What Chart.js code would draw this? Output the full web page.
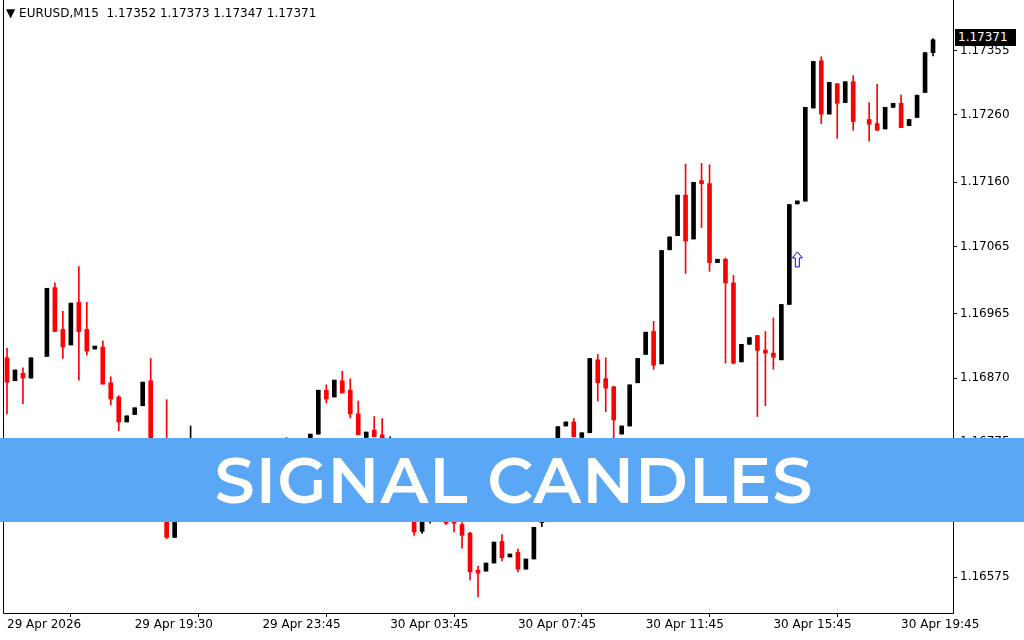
<!DOCTYPE html>
<html><head><meta charset="utf-8">
<script src="https://cdn.jsdelivr.net/npm/chart.js@4/dist/chart.umd.min.js"></script>
<style>
html,body{margin:0;padding:0;background:#fff;width:1024px;height:640px;overflow:hidden;font-family:"DejaVu Sans",sans-serif}
#wrap{position:relative;width:1024px;height:640px}
#hdr{position:absolute;left:6px;top:6px;font:12px "DejaVu Sans",sans-serif;color:#000;white-space:pre}
#banner{position:absolute;left:0;top:438px;width:1024px;height:84px;background:#5aa8f5;color:#fff;
 font:600 64px Montserrat,"Open Sans",sans-serif;letter-spacing:1px;text-align:center;line-height:84px;text-indent:4px}
#last{position:absolute;left:955px;top:29px;width:58px;height:17px;background:#000;color:#fff;font:12px "DejaVu Sans",sans-serif;line-height:17px;padding-left:3px}
</style></head>
<body><div id="wrap"><canvas id="c" width="1024" height="640"></canvas>
<div id="hdr">▼ EURUSD,M15  1.17352 1.17373 1.17347 1.17371</div>
<div id="last">1.17371</div>
<div id="banner">SIGNAL CANDLES</div></div>
<script>
const opens=[1.16900,1.16866,1.16877,1.16870,null,1.16902,1.17004,1.16942,1.16919,1.16982,1.16942,1.16913,1.16916,1.16863,1.16842,1.16805,1.16816,1.16829,1.16866,1.16720,1.16700,1.16634,1.16680,1.16690,1.16700,1.16710,1.16725,1.16715,1.16740,1.16730,1.16745,1.16755,1.16745,1.16760,1.16750,1.16770,1.16755,1.16770,1.16760,1.16787,1.16852,1.16842,1.16866,1.16852,1.16817,1.16782,1.16793,1.16786,1.16740,1.16760,1.16705,1.16680,1.16643,1.16670,1.16680,1.16665,1.16665,1.16653,1.16640,1.16583,1.16584,1.16596,1.16628,1.16605,1.16612,1.16587,1.16602,1.16656,1.16700,1.16730,1.16799,1.16805,1.16782,1.16789,1.16897,1.16869,1.16857,1.16787,1.16799,1.16863,1.16905,1.16939,1.16891,1.17060,1.17081,1.17141,1.17076,1.17162,1.17158,1.17041,1.17046,1.17011,1.16894,1.16920,1.16933,1.16911,1.16907,1.16897,1.16979,1.17128,1.17132,1.17270,1.17340,1.17261,1.17306,1.17278,1.17309,null,1.17253,1.17247,1.17239,1.17271,1.17277,1.17244,1.17256,1.17293,1.17352];
const highs=[1.16914,1.16882,1.16885,1.16900,null,1.17003,1.17011,1.16969,1.16981,1.17035,1.16982,1.16917,1.16925,1.16872,1.16844,1.16814,1.16826,1.16864,1.16899,1.16740,1.16838,1.16690,1.16700,1.16799,1.16720,1.16735,1.16740,1.16745,1.16760,1.16750,1.16765,1.16770,1.16765,1.16772,1.16770,1.16782,1.16775,1.16780,1.16787,1.16852,1.16860,1.16867,1.16880,1.16869,1.16836,1.16790,1.16813,1.16810,1.16783,1.16770,1.16720,1.16690,1.16680,1.16690,1.16700,1.16672,1.16670,1.16656,1.16642,1.16591,1.16596,1.16627,1.16638,1.16608,1.16617,1.16602,1.16649,1.16710,1.16740,1.16798,1.16805,1.16810,1.16789,1.16899,1.16905,1.16900,1.16858,1.16799,1.16860,1.16899,1.16938,1.16954,1.17059,1.17079,1.17141,1.17187,1.17160,1.17188,1.17186,1.17046,1.17048,1.17022,1.16920,1.16930,1.16933,1.16939,1.16959,1.16979,1.17127,1.17132,1.17271,1.17339,1.17346,1.17308,1.17306,1.17309,1.17318,null,1.17278,1.17305,1.17271,1.17277,1.17289,1.17253,1.17289,1.17352,1.17373];
const lows=[1.16817,1.16866,1.16832,1.16870,null,1.16902,1.16939,1.16899,1.16919,1.16867,1.16904,1.16913,1.16861,1.16830,1.16792,1.16805,1.16816,1.16829,1.16705,1.16680,1.16632,1.16634,1.16665,1.16670,1.16680,1.16700,1.16705,1.16710,1.16725,1.16715,1.16735,1.16740,1.16730,1.16745,1.16740,1.16745,1.16740,1.16745,1.16750,1.16787,1.16833,1.16842,1.16848,1.16811,1.16786,1.16782,1.16783,1.16730,1.16725,1.16700,1.16670,1.16637,1.16640,1.16655,1.16660,1.16653,1.16642,1.16618,1.16571,1.16546,1.16584,1.16596,1.16599,1.16605,1.16583,1.16587,1.16602,1.16650,1.16690,1.16725,1.16799,1.16783,1.16782,1.16789,1.16836,1.16820,1.16779,1.16787,1.16799,1.16863,1.16905,1.16883,1.16891,1.17060,1.17081,1.17025,1.17076,1.17093,1.17028,1.17041,1.16892,1.16891,1.16894,1.16920,1.16813,1.16829,1.16883,1.16897,1.16979,1.17128,1.17132,1.17270,1.17247,1.17261,1.17225,1.17278,1.17237,null,1.17221,1.17237,1.17239,1.17271,1.17241,1.17244,1.17256,1.17293,1.17347];
const closes=[1.16864,1.16882,1.16870,1.16900,null,1.17003,1.16939,1.16916,1.16981,1.16939,1.16910,1.16917,1.16861,1.16839,1.16805,1.16814,1.16826,1.16864,1.16720,1.16690,1.16634,1.16680,1.16690,1.16700,1.16710,1.16725,1.16715,1.16740,1.16730,1.16745,1.16755,1.16745,1.16760,1.16750,1.16765,1.16755,1.16770,1.16760,1.16787,1.16852,1.16839,1.16867,1.16848,1.16817,1.16786,1.16790,1.16783,1.16740,1.16760,1.16705,1.16680,1.16642,1.16670,1.16680,1.16665,1.16655,1.16655,1.16637,1.16583,1.16581,1.16596,1.16627,1.16604,1.16608,1.16587,1.16602,1.16649,1.16700,1.16730,1.16798,1.16805,1.16783,1.16789,1.16899,1.16863,1.16855,1.16808,1.16799,1.16860,1.16899,1.16938,1.16889,1.17059,1.17079,1.17141,1.17073,1.17160,1.17158,1.17041,1.17046,1.17011,1.16892,1.16920,1.16930,1.16911,1.16907,1.16901,1.16979,1.17127,1.17132,1.17271,1.17339,1.17261,1.17308,1.17277,1.17309,1.17250,null,1.17246,1.17237,1.17271,1.17277,1.17241,1.17253,1.17289,1.17352,1.17371];
const timeLabels=["29 Apr 2026","29 Apr 19:30","29 Apr 23:45","30 Apr 03:45","30 Apr 07:45","30 Apr 11:45","30 Apr 15:45","30 Apr 19:45"];
const priceTicks=[1.17355,1.17260,1.17160,1.17065,1.16965,1.16870,1.16775,1.16675,1.16575];
const signalIndex=[99];
const signalPrice=[1.17045];

const N=119;
const cats=Array.from({length:N},(_,i)=>i);
const col=i=>opens[i]==null?'transparent':(closes[i]>=opens[i]?'#000':'#ff0000');
const wick=cats.map(i=>opens[i]==null?null:[lows[i],highs[i]]);
const body=cats.map(i=>opens[i]==null?null:[opens[i],closes[i]]);
const colors=cats.map(col);

const frame={id:'frame',afterDraw(ch){const a=ch.chartArea,c=ch.ctx;c.save();c.strokeStyle='#000';c.lineWidth=1;
 c.beginPath();c.moveTo(a.left+0.5,a.top);c.lineTo(a.left+0.5,a.bottom+0.5);c.lineTo(a.right+0.5,a.bottom+0.5);c.lineTo(a.right+0.5,a.top);c.stroke();
 const x=ch.scales.x,y=ch.scales.y;c.strokeStyle='#0000ff';c.fillStyle='#fff';
 signalIndex.forEach((i,k)=>{const px=x.getPixelForValue(i),py=y.getPixelForValue(signalPrice[k]);
  c.beginPath();c.moveTo(px,py-8);c.lineTo(px+5,py-2);c.lineTo(px+2,py-2);c.lineTo(px+2,py+7);c.lineTo(px-2,py+7);c.lineTo(px-2,py-2);c.lineTo(px-5,py-2);c.closePath();c.fill();c.stroke();});
 c.restore();}};

new Chart(document.getElementById('c'),{type:'bar',
 data:{labels:cats,datasets:[
  {data:body,backgroundColor:colors,barThickness:4,minBarLength:3,grouped:false,order:1},
  {data:wick,backgroundColor:colors,barThickness:1,grouped:false,order:2}]},
 options:{responsive:false,animation:false,events:[],
  layout:{padding:{left:3,top:0,right:0,bottom:0}},
  plugins:{legend:{display:false},tooltip:{enabled:false}},
  scales:{
   x:{offset:true,grid:{display:true,drawOnChartArea:false,tickLength:4,color:'#000'},border:{display:false},
      afterFit(s){s.height=27;},
      ticks:{autoSkip:false,maxRotation:0,align:'start',padding:1,color:'#000',font:{family:'DejaVu Sans',size:12},
       callback:(v,i)=>i%16===0?timeLabels[i/16]:null}},
   y:{position:'right',min:1.16522,max:1.17430,border:{display:false},
      grid:{display:true,drawOnChartArea:false,tickLength:4,color:'#000'},
      afterBuildTicks(s){s.ticks=priceTicks.map(v=>({value:v}));},
      afterFit(s){s.width=71;s.paddingTop=0;s.paddingBottom=0;},
      ticks:{color:'#000',padding:3,font:{family:'DejaVu Sans',size:12},callback:v=>v.toFixed(5)}}}},
 plugins:[frame]});
</script></body></html>
